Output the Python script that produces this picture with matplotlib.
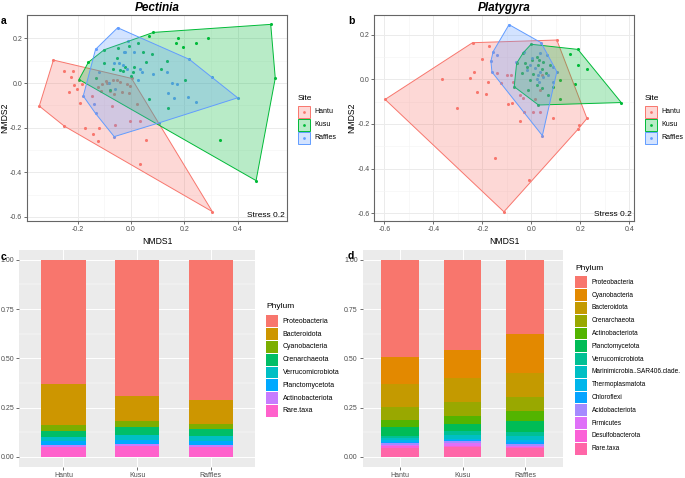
import numpy as np
import matplotlib
matplotlib.use('Agg')
import matplotlib.pyplot as plt
from matplotlib.patches import Rectangle, Polygon
from matplotlib.lines import Line2D

plt.rcParams['font.family'] = ['Liberation Sans', 'DejaVu Sans']
plt.rcParams['axes.unicode_minus'] = False

# ---- data ----
sites = ['Hantu', 'Kusu', 'Raffles']
site_colors = ['#F8766D', '#00BA38', '#619CFF']

# NMDS scores, Pectinia
pec_hantu = [(-0.291, 0.103), (-0.250, 0.055), (-0.219, 0.052), (-0.226, 0.027), (-0.214, -0.010),
             (-0.233, -0.039), (-0.203, -0.028), (-0.183, -0.004), (-0.191, -0.088), (-0.344, -0.103),
             (-0.250, -0.193), (-0.173, -0.200), (-0.119, -0.201), (-0.141, -0.228), (-0.123, -0.261),
             (-0.060, -0.188), (-0.004, -0.169), (0.034, -0.172), (0.055, -0.255), (0.034, -0.364),
             (0.305, -0.576), (0.002, 0.021), (-0.123, -0.016), (-0.110, -0.006), (-0.094, 0.010),
             (-0.089, -0.001), (-0.069, 0.013), (-0.051, 0.013), (-0.041, 0.006), (-0.016, -0.004),
             (-0.004, -0.013), (-0.035, -0.039), (-0.008, -0.046), (-0.114, -0.034), (-0.079, -0.034),
             (-0.064, -0.051), (-0.073, -0.103), (0.021, -0.094), (-0.145, -0.057)]
pec_kusu = [(-0.195, 0.016), (-0.160, 0.093), (-0.101, 0.149), (0.084, 0.227), (0.069, 0.210),
            (0.524, 0.263), (0.541, 0.022), (0.469, -0.437), (0.334, -0.255), (0.178, 0.203),
            (0.168, 0.181), (0.244, 0.178), (0.288, 0.200), (0.196, 0.160), (0.078, 0.130),
            (0.046, 0.137), (0.028, 0.178), (0.134, 0.100), (0.058, 0.093), (0.111, 0.061),
            (0.203, 0.016), (0.011, 0.073), (0.006, 0.051), (-0.023, 0.073), (-0.029, 0.055),
            (0.001, 0.031), (-0.054, 0.113), (-0.100, 0.091), (-0.066, 0.063), (-0.133, 0.021),
            (-0.078, -0.033), (0.069, -0.070), (0.139, -0.112), (-0.050, 0.158), (-0.008, 0.166),
            (-0.041, 0.058)]
pec_raffles = [(-0.050, 0.248), (-0.133, 0.151), (-0.179, -0.058), (-0.133, -0.136), (-0.063, -0.240),
               (0.400, -0.066), (0.303, 0.025), (0.219, 0.106), (0.106, -0.178), (-0.010, 0.190),
               (-0.023, 0.140), (0.013, 0.140), (-0.063, 0.091), (-0.046, 0.091), (-0.029, 0.081),
               (-0.016, 0.063), (-0.119, 0.051), (-0.081, -0.001), (0.034, 0.063), (0.043, 0.051),
               (0.081, 0.040), (0.134, 0.051), (0.153, 0.001), (0.171, -0.004), (0.140, -0.043),
               (0.163, -0.069), (0.215, -0.064), (0.244, -0.087), (-0.138, -0.096), (-0.060, -0.028),
               (-0.026, 0.137), (0.028, 0.013)]

# NMDS scores, Platygyra
pla_hantu = [(-0.597, -0.090), (-0.240, 0.164), (0.104, 0.176), (0.227, -0.175), (-0.112, -0.593),
             (-0.173, 0.151), (-0.203, 0.090), (-0.235, 0.031), (-0.251, 0.006), (-0.365, 0.003),
             (-0.220, -0.055), (-0.187, -0.067), (-0.303, -0.127), (-0.175, -0.013), (-0.142, 0.027),
             (-0.122, -0.015), (-0.097, -0.110), (-0.081, -0.107), (-0.101, 0.018), (-0.083, 0.018),
             (-0.074, -0.010), (-0.046, -0.070), (-0.033, -0.082), (-0.029, -0.145), (-0.046, -0.185),
             (0.008, -0.145), (0.035, -0.145), (0.015, -0.090), (0.035, -0.048), (0.087, -0.175),
             (-0.149, -0.351), (-0.010, -0.452), (0.193, -0.204), (0.190, -0.224), (0.042, 0.019)]
pla_kusu = [(-0.001, 0.157), (0.190, 0.134), (0.367, -0.104), (0.029, -0.115), (0.117, -0.090),
            (-0.070, -0.033), (-0.060, 0.072), (-0.033, 0.119), (0.190, 0.064), (0.227, 0.046),
            (0.179, -0.021), (0.157, 0.113), (-0.026, 0.075), (-0.016, 0.057), (0.001, 0.087),
            (0.022, 0.101), (0.033, 0.087), (0.049, 0.079), (0.029, 0.064), (0.042, 0.045),
            (0.060, 0.027), (0.008, 0.024), (-0.005, -0.003), (0.022, -0.025), (-0.015, -0.048),
            (0.042, -0.040), (0.070, -0.070), (0.090, -0.033), (0.117, -0.003), (0.076, 0.064),
            (-0.040, 0.030)]
pla_raffles = [(-0.091, 0.245), (0.040, 0.164), (-0.142, 0.109), (-0.156, 0.124), (-0.165, 0.082),
               (-0.161, 0.033), (0.045, -0.252), (-0.063, 0.079), (-0.029, 0.121), (0.035, 0.116),
               (0.063, 0.109), (-0.005, 0.064), (0.015, 0.049), (0.035, 0.034), (0.049, 0.012),
               (0.070, 0.019), (0.090, 0.057), (0.090, -0.010), (0.104, 0.034), (0.022, 0.001),
               (0.031, -0.010), (-0.019, 0.042), (0.029, 0.019), (0.001, 0.094)]

# relative abundance, Pectinia
phyla_c = ['Proteobacteria', 'Bacteroidota', 'Cyanobacteria', 'Crenarchaeota',
           'Verrucomicrobiota', 'Planctomycetota', 'Actinobacteriota', 'Rare.taxa']
colors_c = ['#F8766D', '#CD9600', '#7CAE00', '#00BE67', '#00BFC4', '#00A9FF', '#C77CFF', '#FF61CC']
c_hantu = [0.632, 0.207, 0.030, 0.031, 0.020, 0.022, 0.010, 0.048]
c_kusu = [0.693, 0.127, 0.031, 0.037, 0.027, 0.022, 0.010, 0.053]
c_raffles = [0.712, 0.119, 0.030, 0.034, 0.025, 0.019, 0.010, 0.051]

# relative abundance, Platygyra
phyla_d = ['Proteobacteria', 'Cyanobacteria', 'Bacteroidota', 'Crenarchaeota', 'Actinobacteriota',
           'Planctomycetota', 'Verrucomicrobiota', 'Marinimicrobia..SAR406.clade.', 'Thermoplasmatota',
           'Chloroflexi', 'Acidobacteriota', 'Firmicutes', 'Desulfobacterota', 'Rare.taxa']
colors_d = ['#F8766D', '#E38900', '#C49A00', '#99A800', '#53B400', '#00BC56', '#00C094',
            '#00BFC4', '#00B6EB', '#06A4FF', '#A58AFF', '#DF70F8', '#FB61D7', '#FF66A8']
d_hantu = [0.493, 0.139, 0.117, 0.065, 0.032, 0.046, 0.011, 0.012, 0.009, 0.008, 0.007, 0.008, 0.007, 0.046]
d_kusu = [0.456, 0.142, 0.124, 0.070, 0.040, 0.039, 0.019, 0.017, 0.008, 0.007, 0.010, 0.014, 0.005, 0.049]
d_raffles = [0.375, 0.198, 0.125, 0.070, 0.051, 0.054, 0.022, 0.022, 0.010, 0.010, 0.007, 0.005, 0.007, 0.044]

W, H = 685, 478
fig = plt.figure(figsize=(W / 100, H / 100), dpi=100)


def px_axes(l, t, w, h):
    return fig.add_axes([l / W, 1 - (t + h) / H, w / W, h / H])


def hull(pts):
    # monotone chain convex hull
    p = sorted(set(pts))
    def cross(o, a, b):
        return (a[0] - o[0]) * (b[1] - o[1]) - (a[1] - o[1]) * (b[0] - o[0])
    lower, upper = [], []
    for q in p:
        while len(lower) >= 2 and cross(lower[-2], lower[-1], q) <= 0:
            lower.pop()
        lower.append(q)
    for q in reversed(p):
        while len(upper) >= 2 and cross(upper[-2], upper[-1], q) <= 0:
            upper.pop()
        upper.append(q)
    return lower[:-1] + upper[:-1]


def nmds_panel(ax, groups, xlim, ylim, xmaj, ymaj, title):
    for pts, col in zip(groups, site_colors):
        a = np.array(pts)
        ax.scatter(a[:, 0], a[:, 1], s=5, color=col, linewidths=0, zorder=2)
    for pts, col in zip(groups, site_colors):
        ax.add_patch(Polygon(hull(pts), closed=True, facecolor=col, alpha=0.28,
                             edgecolor='none', zorder=3))
        ax.add_patch(Polygon(hull(pts), closed=True, facecolor='none',
                             edgecolor=col, lw=0.7, zorder=3))
    ax.set_xlim(xlim)
    ax.set_ylim(ylim)
    ax.set_xticks(xmaj)
    ax.set_yticks(ymaj)
    ax.set_xticks(np.array(xmaj[:-1]) + (xmaj[1] - xmaj[0]) / 2, minor=True)
    ax.set_yticks(np.array(ymaj[:-1]) + (ymaj[1] - ymaj[0]) / 2, minor=True)
    ax.set_xticklabels(['%.1f' % v for v in xmaj])
    ax.set_yticklabels(['%.1f' % v for v in ymaj])
    ax.grid(which='major', color='#EBEBEB', lw=0.7, zorder=0)
    ax.grid(which='minor', color='#F4F4F4', lw=0.4, zorder=0)
    ax.set_axisbelow(True)
    for s in ax.spines.values():
        s.set_color('#666666')
        s.set_linewidth(0.8)
    ax.tick_params(which='major', labelsize=5, labelcolor='#4D4D4D', length=2, width=0.5,
                   color='#333333', pad=1.5)
    ax.tick_params(which='minor', length=0)
    ax.set_xlabel('NMDS1', fontsize=6.2, labelpad=3)
    ax.set_ylabel('NMDS2', fontsize=6.2, va='center')
    ax.yaxis.set_label_coords(-0.085, 0.5)
    ax.set_title(title, fontsize=8.5, fontweight='bold', style='italic', pad=3)
    ax.text(0.99, 0.012, 'Stress 0.2', transform=ax.transAxes, ha='right', va='bottom', fontsize=6)


def bar_panel(ax, vals, colors):
    vals = np.array(vals)
    x = np.arange(1, 4)
    bottom = np.zeros(3)
    for i in reversed(range(vals.shape[1])):
        ax.bar(x, vals[:, i], bottom=bottom, width=0.6, color=colors[i], linewidth=0, zorder=2)
        bottom += vals[:, i]
    ax.set_facecolor('#EBEBEB')
    ax.set_xlim(0.4, 3.6)
    ax.set_ylim(-0.05, 1.05)
    ax.set_xticks(x)
    ax.set_xticklabels(sites)
    ax.set_yticks([0, 0.25, 0.5, 0.75, 1.0])
    ax.set_yticklabels(['0.00', '0.25', '0.50', '0.75', '1.00'])
    ax.set_yticks([0.125, 0.375, 0.625, 0.875], minor=True)
    ax.grid(which='major', color='white', lw=0.7, zorder=0)
    ax.grid(which='minor', axis='y', color='white', lw=0.35, zorder=0)
    ax.set_axisbelow(True)
    for s in ax.spines.values():
        s.set_visible(False)
    ax.tick_params(which='major', labelsize=5, labelcolor='#4D4D4D', length=2, width=0.5,
                   color='#333333', pad=1.5)
    ax.tick_params(which='minor', length=0)


def fig_text(x, y, s, **kw):
    fig.text(x / W, 1 - y / H, s, **kw)


def site_legend(x0, y0):
    fig_text(x0, y0, 'Site', fontsize=6, va='center', ha='left')
    for i, (lab, col) in enumerate(zip(sites, site_colors)):
        yc = y0 + 13.5 + i * 13.2
        fig.patches.append(Rectangle((x0 / W, 1 - (yc + 6) / H), 12 / W, 12 / H,
                                     transform=fig.transFigure, facecolor=col, alpha=0.28,
                                     edgecolor='none'))
        fig.patches.append(Rectangle((x0 / W, 1 - (yc + 6) / H), 12 / W, 12 / H,
                                     transform=fig.transFigure, facecolor='none',
                                     edgecolor=col, lw=0.7))
        fig.lines.append(Line2D([(x0 + 6) / W], [1 - yc / H], transform=fig.transFigure,
                                marker='o', ms=2, color=col, mec='none'))
        fig_text(x0 + 16, yc, lab, fontsize=5, va='center', ha='left')


def phylum_legend(x0, y0, labels, colors, fs):
    fig_text(x0, y0, 'Phylum', fontsize=6, va='center', ha='left')
    for i, (lab, col) in enumerate(zip(labels, colors)):
        yc = y0 + 14.3 + i * 12.8
        fig.patches.append(Rectangle((x0 / W, 1 - (yc + 5.9) / H), 11.5 / W, 11.8 / H,
                                     transform=fig.transFigure, facecolor=col, edgecolor='none'))
        fig_text(x0 + 16.5, yc, lab, fontsize=fs, va='center', ha='left')


ax_a = px_axes(27, 15, 260, 206)
nmds_panel(ax_a, [pec_hantu, pec_kusu, pec_raffles], (-0.39, 0.585), (-0.618, 0.305),
           [-0.2, 0.0, 0.2, 0.4], [-0.6, -0.4, -0.2, 0.0, 0.2], 'Pectinia')
ax_b = px_axes(374.3, 15, 259.7, 205.7)
nmds_panel(ax_b, [pla_hantu, pla_kusu, pla_raffles], (-0.641, 0.419), (-0.633, 0.288),
           [-0.6, -0.4, -0.2, 0.0, 0.2, 0.4], [-0.6, -0.4, -0.2, 0.0, 0.2], 'Platygyra')

ax_c = px_axes(19.3, 250, 235.7, 216.7)
bar_panel(ax_c, [c_hantu, c_kusu, c_raffles], colors_c)
ax_d = px_axes(362.7, 250, 200, 216.7)
bar_panel(ax_d, [d_hantu, d_kusu, d_raffles], colors_d)

site_legend(298, 98)
site_legend(645, 98)
phylum_legend(266, 307, phyla_c, colors_c, 5)
phylum_legend(575, 268, phyla_d, colors_d, 4.7)

for lab, x, y in [('a', 1, 21), ('b', 348, 21), ('c', 1, 257), ('d', 348, 256)]:
    fig_text(x, y, lab, fontsize=7.5, fontweight='bold', va='center', ha='left')

fig.savefig('out.png', dpi=100)
